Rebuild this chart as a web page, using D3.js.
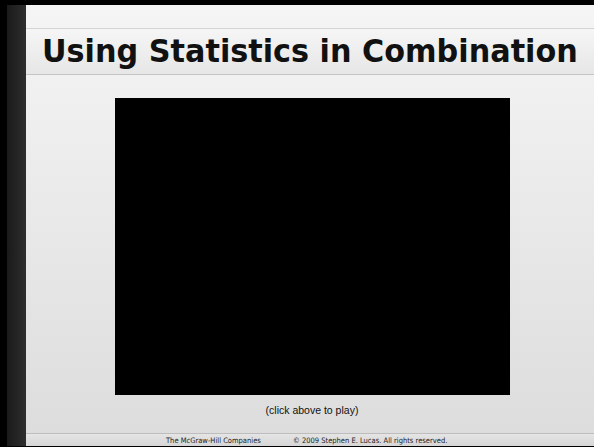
<!DOCTYPE html>
<html>
<head>
<meta charset="utf-8">
<script src="https://cdn.jsdelivr.net/npm/d3@7"></script>
<style>
  html, body { margin: 0; padding: 0; background: #000; }
  svg { display: block; }
</style>
</head>
<body>
<div id="chart"></div>
<script>
// Slide text content
const titleText = ['Using Statistics in Combination'];
const captionText = ['(click above to play)'];
const footerTexts = ['The McGraw-Hill Companies', '\u00a9 2009 Stephen E. Lucas. All rights reserved.'];

const width = 594;
const height = 447;

const svg = d3.select('#chart')
    .append('svg')
    .attr('width', width)
    .attr('height', height);

const defs = svg.append('defs');

// Slide background gradient
const bg = defs.append('linearGradient')
    .attr('id', 'bg').attr('x1', 0).attr('y1', 0).attr('x2', 0).attr('y2', 1);
bg.append('stop').attr('offset', '0%').attr('stop-color', '#f5f5f5');
bg.append('stop').attr('offset', '100%').attr('stop-color', '#dcdcdc');

// Title band gradient
const band = defs.append('linearGradient')
    .attr('id', 'band').attr('x1', 0).attr('y1', 0).attr('x2', 0).attr('y2', 1);
band.append('stop').attr('offset', '0%').attr('stop-color', '#f6f6f6');
band.append('stop').attr('offset', '100%').attr('stop-color', '#e6e6e6');

// Left dark bar gradient
const bar = defs.append('linearGradient')
    .attr('id', 'bar').attr('x1', 0).attr('y1', 0).attr('x2', 1).attr('y2', 0);
bar.append('stop').attr('offset', '0%').attr('stop-color', '#1a1a1a');
bar.append('stop').attr('offset', '100%').attr('stop-color', '#2e2e2e');

// Footer band gradient
const foot = defs.append('linearGradient')
    .attr('id', 'foot').attr('x1', 0).attr('y1', 0).attr('x2', 0).attr('y2', 1);
foot.append('stop').attr('offset', '0%').attr('stop-color', '#e6e6e6');
foot.append('stop').attr('offset', '100%').attr('stop-color', '#d6d6d6');

// outer frame
svg.append('rect').attr('width', width).attr('height', height).attr('fill', '#000');

// slide body
svg.append('rect')
    .attr('x', 7).attr('y', 5)
    .attr('width', width - 7).attr('height', 441)
    .attr('fill', 'url(#bg)');

// title band
svg.append('rect')
    .attr('x', 26).attr('y', 28)
    .attr('width', width - 26).attr('height', 47)
    .attr('fill', 'url(#band)');
svg.append('line')
    .attr('x1', 26).attr('x2', width).attr('y1', 28.5).attr('y2', 28.5)
    .attr('stroke', '#d4d4d4');
svg.append('line')
    .attr('x1', 26).attr('x2', width).attr('y1', 74.5).attr('y2', 74.5)
    .attr('stroke', '#c4c4c4');

// footer band
svg.append('rect')
    .attr('x', 26).attr('y', 433)
    .attr('width', width - 26).attr('height', 13)
    .attr('fill', 'url(#foot)');
svg.append('line')
    .attr('x1', 26).attr('x2', width).attr('y1', 433.5).attr('y2', 433.5)
    .attr('stroke', '#bdbdbd');

// left dark bar
svg.append('rect')
    .attr('x', 7).attr('y', 5)
    .attr('width', 19).attr('height', 441)
    .attr('fill', 'url(#bar)');

// title - squeezed horizontally to fit the band like the original
const titleG = svg.append('g');
const title = titleG.selectAll('text.title')
    .data(titleText)
    .join('text')
    .attr('class', 'title')
    .attr('x', 0)
    .attr('y', 0)
    .style('font-family', '"DejaVu Sans", Verdana, sans-serif')
    .style('font-weight', 'bold')
    .style('font-size', '32px')
    .attr('fill', '#111')
    .text(d => d);
const tw = title.node().getComputedTextLength();
titleG.attr('transform', `translate(42,62) scale(${Math.min(1, 536 / tw)},1)`);

// video placeholder
svg.append('rect')
    .attr('x', 115).attr('y', 98)
    .attr('width', 395).attr('height', 297)
    .attr('fill', '#000');

// caption
svg.selectAll('text.caption')
    .data(captionText)
    .join('text')
    .attr('class', 'caption')
    .attr('x', 312)
    .attr('y', 414)
    .attr('text-anchor', 'middle')
    .style('font-family', '"Liberation Sans", Arial, sans-serif')
    .style('font-size', '10.5px')
    .attr('fill', '#111')
    .text(d => d);

// footer
const footerX = [166, 293];
svg.selectAll('text.footer')
    .data(footerTexts)
    .join('text')
    .attr('class', 'footer')
    .attr('x', (d, i) => footerX[i])
    .attr('y', 443)
    .style('font-family', '"DejaVu Sans Condensed", "DejaVu Sans", sans-serif')
    .style('font-size', '7.5px')
    .attr('fill', '#222')
    .text(d => d);
</script>
</body>
</html>
